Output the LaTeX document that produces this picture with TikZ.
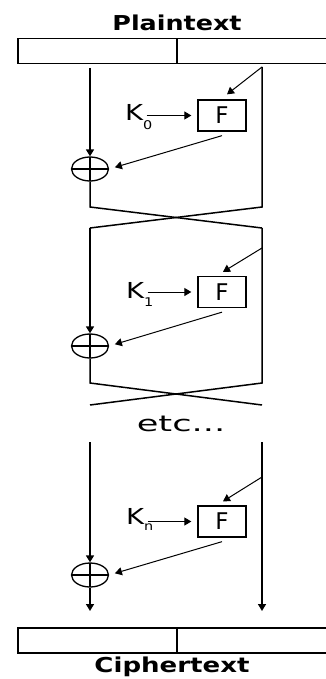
\documentclass[tikz,border=0pt]{standalone}
\usepackage{fontspec}
\setmainfont{DejaVu Sans}
\usetikzlibrary{arrows.meta,shapes.geometric}
\newcommand\Ksub[1]{\scalebox{1.25}[1]{K}\raisebox{-\height}{\fontsize{12}{12}\selectfont\scalebox{1.2}[1]{#1}}}
\begin{document}
\begin{tikzpicture}[x=1pt,y=-1pt,
  main/.style={line width=1.5pt},
  half/.style={draw,line width=1.5pt,minimum height=25pt,inner sep=0pt,anchor=north west},
  fbox/.style={draw,line width=1.3pt,minimum width=48pt,minimum height=31pt,inner sep=0pt,font=\fontsize{23}{23}\selectfont},
  xor/.style={draw,ellipse,line width=1.3pt,minimum width=37pt,minimum height=24pt,inner sep=0pt,
    path picture={\draw[line width=1.2pt] (path picture bounding box.north)--(path picture bounding box.south)
      (path picture bounding box.west)--(path picture bounding box.east);}},
  tip/.style={-{Triangle[length=7pt,width=8pt]}},
  thin/.style={line width=1pt,tip},
  klabel/.style={anchor=base west,inner sep=0pt,font=\fontsize{22}{22}\selectfont},
  lbl/.style={inner sep=0pt,font=\fontsize{20.5}{20.5}\selectfont\bfseries}
]
\useasboundingbox (0,0) rectangle (326,679);
% top
\node[lbl] (ptxt) at (177,23) {\scalebox{1.24}[1]{Plaintext}};
\node[half,minimum width=159pt] (pl) at (17,38) {};
\node[half,minimum width=160pt] (pr) at (176,38) {};
% round 0
\coordinate (l0t) at (90,68);
\coordinate (r0t) at (262,67);
\coordinate (l0b) at (90,207);
\coordinate (r0b) at (262,207);
\node[xor] (x0) at (90,169) {};
\node[fbox] (f0) at (222,115.5) {F};
\node[klabel] (k0) at (125,121) {\Ksub{0}};
% round 1
\coordinate (l1t) at (90,228);
\coordinate (r1t) at (262,228);
\coordinate (r1a) at (262,248);
\coordinate (l1b) at (90,383);
\coordinate (r1b) at (262,383);
\node[xor] (x1) at (90,346) {};
\node[fbox] (f1) at (222,292) {F};
\node[klabel] (k1) at (126,298) {\Ksub{1}};
\coordinate (e1r) at (262,405);
\coordinate (e1l) at (90,405);
\node[inner sep=0pt,font=\fontsize{22}{22}\selectfont] (etc) at (181,424) {\scalebox{1.6}[1]{etc...}};
% round n
\coordinate (lnt) at (90,442);
\coordinate (rnt) at (262,442);
\coordinate (rna) at (262,477);
\coordinate (lnb) at (90,611);
\coordinate (rnb) at (262,611);
\node[xor] (xn) at (90,575) {};
\node[fbox] (fn) at (222,521.5) {F};
\node[klabel] (kn) at (126,524) {\Ksub{n}};
% bottom
\node[half,minimum width=159pt] (cl) at (17,627) {};
\node[half,minimum width=160pt] (cr) at (176,627) {};
\node[lbl] (ctxt) at (172,667) {\scalebox{1.27}[1]{Ciphertext}};

% connectors round 0
\draw[main,tip] (l0t) -- (x0.north);
\draw[main] (r0t) -- (r0b) -- (l1t);
\draw[main] (x0.south) -- (l0b) -- (r1t);
\draw[thin] (r0t) -- ([xshift=5pt,yshift=5pt]f0.north);
\draw[thin,shorten >=6pt] ([xshift=-6pt]k0.east |- f0.west) -- (f0.west);
\draw[thin,shorten >=6pt] ([yshift=-4pt]f0.south) -- (x0.east);
% round 1
\draw[main,tip] (l1t) -- (x1.north);
\draw[main] (r1t) -- (r1b) -- (e1l);
\draw[main] (x1.south) -- (l1b) -- (e1r);
\draw[thin] (r1a) -- ([xshift=1pt,yshift=4pt]f1.north);
\draw[thin,shorten >=6pt] ([xshift=-6pt]k1.east |- f1.west) -- (f1.west);
\draw[thin,shorten >=6pt] ([yshift=-4pt]f1.south) -- (x1.east);
% round n
\draw[main,tip] (lnt) -- (xn.north);
\draw[main,tip] (rnt) -- (rnb);
\draw[main,tip] (xn.south) -- (lnb);
\draw[thin] (rna) -- ([xshift=1pt,yshift=4pt]fn.north);
\draw[thin,shorten >=6pt] ([xshift=-6pt]kn.east |- fn.west) -- (fn.west);
\draw[thin,shorten >=6pt] ([yshift=-4pt]fn.south) -- (xn.east);
\end{tikzpicture}
\end{document}
